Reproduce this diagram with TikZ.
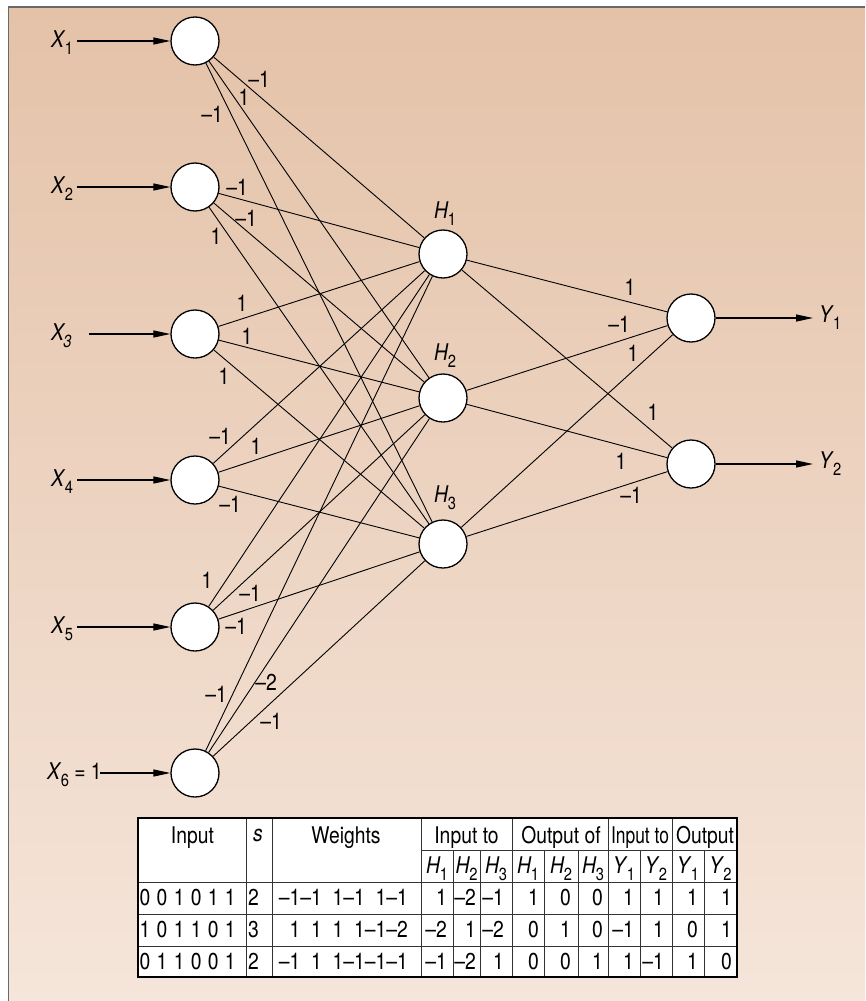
\documentclass[tikz,border=0pt]{standalone}
\usepackage{fontspec}
\setmainfont{TeX Gyre Heros}[FakeStretch=0.84]
\usepackage{graphicx}
\usetikzlibrary{arrows.meta}
\definecolor{bgtop}{RGB}{228,194,168}
\definecolor{bgbot}{RGB}{245,229,218}
\definecolor{frameline}{RGB}{105,105,105}
\newcommand\sbs[1]{\kern-0.8pt\raisebox{-7pt}{\fontsize{17.5}{18}\selectfont #1}}
\newcommand\V[2]{\textit{#1}\sbs{#2}}
\newcommand\ps{\phantom{–}}
\newcommand\gp{\hspace{6.3pt}}
\begin{document}
\begin{tikzpicture}[x=1pt,y=-1pt,
  txt/.style={inner sep=0pt,font=\fontsize{23}{27}\selectfont},
  neuron/.style={circle,draw=black,fill=white,line width=1.3pt,minimum size=48pt,inner sep=0pt},
  edge/.style={line width=0.9pt},
  arr/.style={line width=1.2pt,-{Triangle[length=17pt,width=7pt]}},
  tline/.style={line width=1pt,black!80},
]
\useasboundingbox (0,0) rectangle (865,1001);
\fill[white] (0,0) rectangle (865,1001);
\shade[top color=bgtop,bottom color=bgbot] (8,7) rectangle (865,1001);
\draw[frameline,line width=1pt] (8,1001) -- (8,7);
\draw[frameline,line width=1.8pt] (8,7) -- (865,7);

% neurons
\foreach \i/\y in {1/41,2/187,3/334,4/480,5/627,6/773}
  \node[neuron] (x\i) at (195,\y) {};
\foreach \j/\y in {1/254,2/398,3/544}
  \node[neuron] (h\j) at (443,\y) {};
\node[neuron] (y1) at (691,318) {};
\node[neuron] (y2) at (691,464) {};

% connections
\foreach \i in {1,...,6}
  \foreach \j in {1,2,3}
    \draw[edge] (x\i) -- (h\j);
\foreach \j in {1,2,3}
  \foreach \k in {1,2}
    \draw[edge] (h\j) -- (y\k);

% input / output arrows
\foreach \i/\xs/\y in {1/77/41,2/77/187,3/89/334,4/77/480,5/77/627,6/100/773}{
  \coordinate (s\i) at (\xs,\y);
  \draw[arr] (s\i) -- (x\i);
}
\coordinate (t1) at (813,318);
\coordinate (t2) at (813,464);
\draw[arr] (y1) -- (t1);
\draw[arr] (y2) -- (t2);

% node labels
\node[txt,anchor=base west] (lx1) at (51,47) {\V{X}{1}};
\node[txt,anchor=base west] (lx2) at (51,193) {\V{X}{2}};
\node[txt,anchor=base west] (lx3) at (51,340) {\textit{X\sbs{3}}};
\node[txt,anchor=base west] (lx4) at (51,486) {\V{X}{4}};
\node[txt,anchor=base west] (lx5) at (51,633) {\V{X}{5}};
\node[txt,anchor=base west] (lx6) at (47,779) {\V{X}{6} = 1};
\node[txt,anchor=base west] (lh1) at (434,218) {\V{H}{1}};
\node[txt,anchor=base west] (lh2) at (434,360) {\V{H}{2}};
\node[txt,anchor=base west] (lh3) at (434,502) {\V{H}{3}};
\node[txt,anchor=base west] (ly1) at (819,322) {\V{Y}{1}};
\node[txt,anchor=base west] (ly2) at (819,468) {\V{Y}{2}};

% weight labels
\foreach \n/\x/\y/\t in {w11/259/79/–1, w12/244/97/1, w13/212/114/–1,
  w21/237/187/–1, w22/246/218/–1, w23/216/236/1,
  w31/242/303/1, w32/247/336/1, w33/224/376/1,
  w41/220/436/–1, w42/256/446/1, w43/230/504/–1,
  w51/207/580/1, w52/250/593/–1, w53/236/626/–1,
  w61/216/694/–1, w62/266/682/–2, w63/271/721/–1,
  v11/630/287/1, v21/619/324/–1, v31/633/353/1,
  v12/653/412/1, v22/621/461/1, v32/631/495/–1}
  \node[txt] (\n) at (\x,\y) {\t};

% table
\fill[white] (138,818) rectangle (737,977);
\foreach \x in {246,272,421,512,608,672}
  \draw[tline] (\x,818) -- (\x,977);
\foreach \x in {453,480,544,578,640,704}
  \draw[tline] (\x,850) -- (\x,977);
\draw[tline] (421,850) -- (737,850);
\foreach \y in {882,914,946}
  \draw[tline] (138,\y) -- (737,\y);
\draw[line width=1.2pt] (138,818) rectangle (737,977);

\node[txt,anchor=base] (hd1) at (192.5,843) {Input};
\node[txt,anchor=base] (hd2) at (258,841) {\textit{s}};
\node[txt,anchor=base] (hd3) at (346,843) {Weights};
\node[txt,anchor=base] (hd4) at (466.5,843) {Input to};
\node[txt,anchor=base] (hd5) at (561,843) {Output of};
\node[txt,anchor=base] (hd6) at (640,843) {\scalebox{0.9}[1]{Input to}};
\node[txt,anchor=base] (hd7) at (705,843) {Output};

\foreach \xc/\l/\n [count=\c] in {437/H/1,466.5/H/2,496/H/3,528/H/1,561/H/2,593/H/3,624/Y/1,656/Y/2,688/Y/1,720.5/Y/2}
  \node[txt,anchor=base] (sh\c) at (\xc,873) {\V{\l}{\n}};

% rows
\node[txt,anchor=base west] (ia) at (139.5,905) {0\gp0\gp1\gp0\gp1\gp1};
\node[txt,anchor=base west] (ib) at (139.5,937) {1\gp0\gp1\gp1\gp0\gp1};
\node[txt,anchor=base west] (ic) at (139.5,969) {0\gp1\gp1\gp0\gp0\gp1};
\node[txt,anchor=base] (sa) at (253.5,905) {2};
\node[txt,anchor=base] (sb) at (253.5,937) {3};
\node[txt,anchor=base] (sc) at (253.5,969) {2};
\node[txt,anchor=base east] (wa) at (408,905) {–1–1\ps1–1\ps1–1};
\node[txt,anchor=base east] (wb) at (408,937) {\ps1\ps1\ps1\ps1–1–2};
\node[txt,anchor=base east] (wc) at (408,969) {–1\ps1\ps1–1–1–1};

\foreach \xr/\v [count=\c] in {447/1,476/–2,504/–1,539/1,571/0,603/0,634/1,664/1,698/1,732/1}
  \node[txt,anchor=base east] (ra\c) at (\xr,905) {\v};
\foreach \xr/\v [count=\c] in {447/–2,476/1,504/–2,539/0,571/1,603/0,634/–1,664/1,698/0,732/1}
  \node[txt,anchor=base east] (rb\c) at (\xr,937) {\v};
\foreach \xr/\v [count=\c] in {447/–1,476/–2,504/1,539/0,571/0,603/1,634/1,664/–1,698/1,732/0}
  \node[txt,anchor=base east] (rc\c) at (\xr,969) {\v};
\end{tikzpicture}
\end{document}
